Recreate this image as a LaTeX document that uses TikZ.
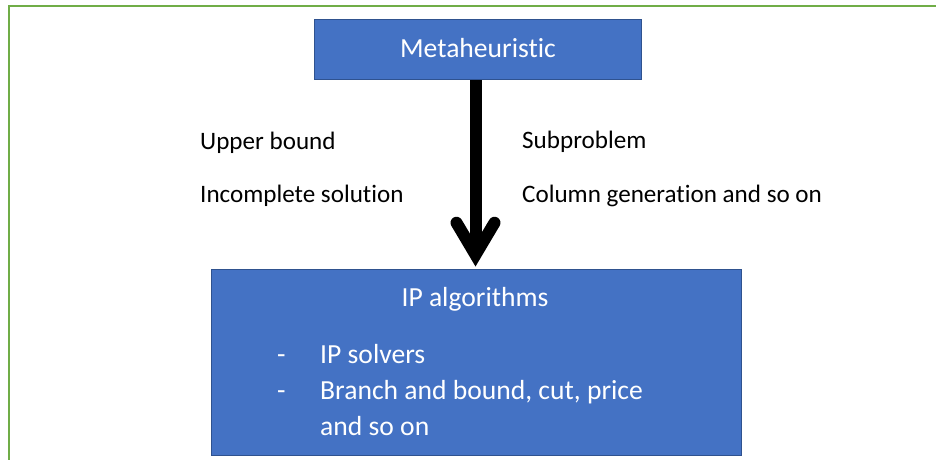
\documentclass[tikz,border=0pt]{standalone}
\usepackage{fontspec}
\setmainfont{Carlito}[Ligatures=NoCommon]
\usetikzlibrary{calc}
\definecolor{boxblue}{HTML}{4472C4}
\definecolor{boxedge}{HTML}{2F528F}
\definecolor{framegreen}{HTML}{70AD47}
\tikzset{
  blockbox/.style={draw=boxedge, line width=1.5pt, fill=boxblue, rectangle, inner sep=0pt},
  sidelabel/.style={anchor=base west, inner sep=0pt, font=\fontsize{25.1}{30}\selectfont},
  boxtitle/.style={anchor=base, inner sep=0pt, text=white, font=\fontsize{27.6}{33}\selectfont},
  boxline/.style={anchor=base west, inner sep=0pt, text=white, font=\fontsize{27.6}{33}\selectfont},
  shaft/.style={line width=12pt, line cap=butt},
  barb/.style={line width=12pt, line cap=round, line join=miter, miter limit=10},
}
\begin{document}
\begin{tikzpicture}[x=1pt, y=-1pt]
  \useasboundingbox (0,0) rectangle (936,459);
  \clip (0,0) rectangle (936,459);
  \fill[white] (0,0) rectangle (936,459);
  % outer frame, running past the right and bottom edges
  \draw[framegreen, line width=2.4pt] (9,6) rectangle (960,480);

  % the two blocks
  \node[blockbox, minimum width=327pt, minimum height=60pt] (meta) at (478,49.5) {};
  \node[blockbox, minimum width=530pt, minimum height=186pt] (ip) at (476.5,362.5) {};

  \node[boxtitle] (metatext) at (478,57) {Metaheuristic};
  \node[boxtitle] (iptext) at (475,306) {IP algorithms};
  \node[boxline] (dash1) at (277,363) {-};
  \node[boxline] (item1) at (320,363) {IP solvers};
  \node[boxline] (dash2) at (277,399) {-};
  \node[boxline] (item2) at (320,399) {Branch and bound, cut, price};
  \node[boxline] (item2b) at (320,435) {and so on};

  % labels beside the arrow
  \node[sidelabel] (ub) at (200,149) {Upper bound};
  \node[sidelabel] (inc) at (200,202) {Incomplete solution};
  \node[sidelabel] (sub) at (522,148) {Subproblem};
  \node[sidelabel] (col) at (522,202) {Column generation and so on};

  % thick arrow from the metaheuristic down to the IP block
  \coordinate (vertex) at ($(ip.north)+(-1,-14)$);
  \draw[shaft] (meta.south -| vertex) -- (vertex);
  \draw[barb] ($(vertex)+(-19,-32)$) -- (vertex) -- ($(vertex)+(19,-32)$);
\end{tikzpicture}
\end{document}
